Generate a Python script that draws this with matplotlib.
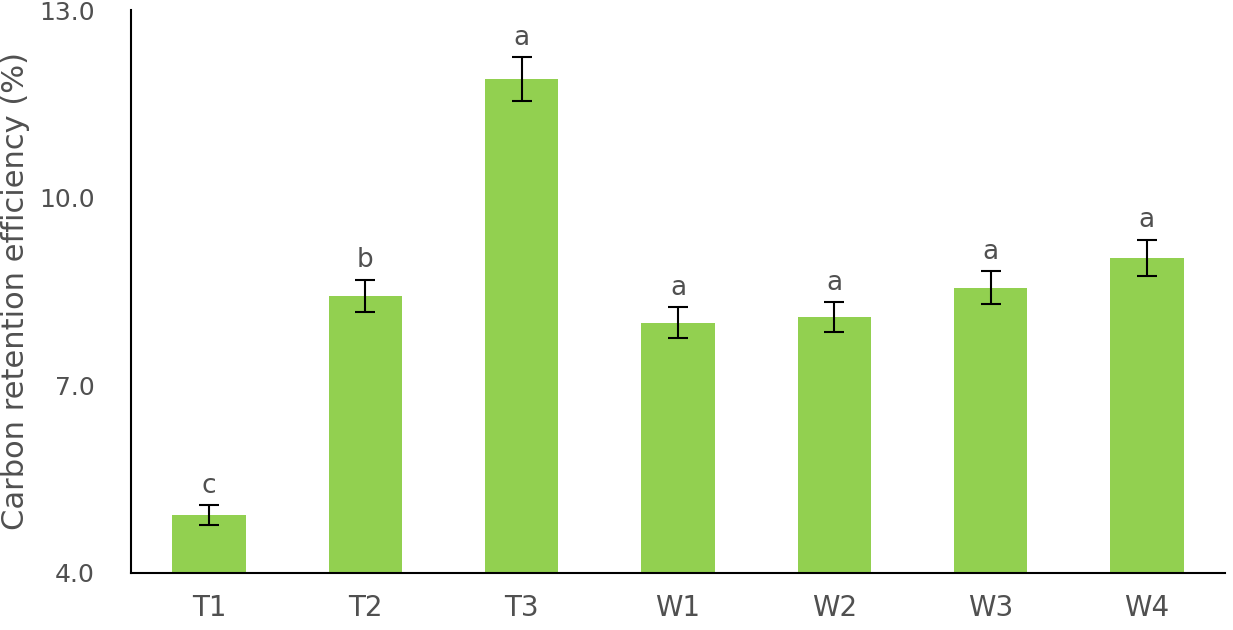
import matplotlib.pyplot as plt

groups = ['T1', 'T2', 'T3', 'W1', 'W2', 'W3', 'W4']
values = [4.93, 8.43, 11.90, 8.00, 8.09, 8.56, 9.04]
errors = [0.16, 0.26, 0.35, 0.25, 0.24, 0.26, 0.29]
letters = ['c', 'b', 'a', 'a', 'a', 'a', 'a']
yticks = [4.0, 7.0, 10.0, 13.0]

grey = '#505050'

fig = plt.figure(figsize=(12.33, 6.3), dpi=100)
ax = fig.add_axes([131 / 1233, 57 / 630, 1094 / 1233, 563 / 630])

x = range(len(groups))
ax.bar(x, values, width=0.47, color='#92D050')
ax.errorbar(x, values, yerr=errors, fmt='none', ecolor='black',
            elinewidth=1.5, capsize=7, capthick=1.5)

# буквы значимости над усами
for i, (v, e, s) in enumerate(zip(values, errors, letters)):
    ax.text(i, v + e + 0.1, s, ha='center', va='bottom', fontsize=19, color=grey)

ax.set_xlim(-0.5, len(groups) - 0.5)
ax.set_ylim(4.0, 13.0)
ax.set_yticks(yticks)
ax.set_yticklabels([f'{t:.1f}' for t in yticks])
ax.set_xticks(list(x))
ax.set_xticklabels(groups, fontsize=20)
ax.tick_params(axis='both', length=0, labelcolor=grey)
ax.tick_params(axis='y', labelsize=18, pad=26)
ax.tick_params(axis='x', pad=15)

ax.spines['top'].set_visible(False)
ax.spines['right'].set_visible(False)
ax.spines['left'].set_linewidth(1.5)
ax.spines['bottom'].set_linewidth(1.5)

ax.set_ylabel('Carbon retention efficiency (%)', fontsize=22, color=grey)
ax.yaxis.set_label_coords(-0.092, 0.5)

fig.savefig('out.png', dpi=100)
